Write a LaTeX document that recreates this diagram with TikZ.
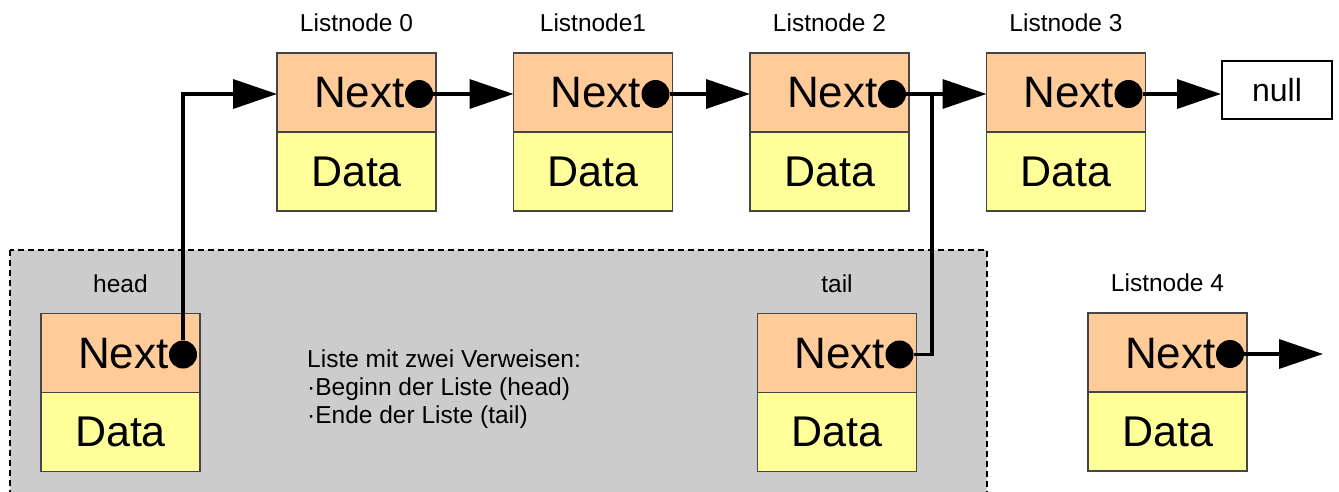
\documentclass[tikz,border=0pt]{standalone}
\usepackage{fontspec}
\setmainfont{Liberation Sans}
\usetikzlibrary{arrows.meta}
\definecolor{nextfill}{HTML}{FFCC99}
\definecolor{datafill}{HTML}{FFFF99}
\definecolor{grayfill}{HTML}{CCCCCC}
\definecolor{cellborder}{HTML}{454545}
\tikzset{
  cell/.style={draw=cellborder, line width=1.5pt, minimum width=159pt, minimum height=79pt, inner sep=0pt, outer sep=0pt},
  nextcell/.style={cell, fill=nextfill},
  datacell/.style={cell, fill=datafill, font=\fontsize{43}{43}\selectfont},
  nexttext/.style={anchor=base east, inner sep=0pt, font=\fontsize{44}{44}\selectfont},
  ptr/.style={circle, fill=black, minimum size=28pt, inner sep=0pt},
  lbl/.style={anchor=base, inner sep=0pt, font=\fontsize{24.5}{28}\selectfont},
  desc/.style={anchor=base west, inner sep=0pt, font=\fontsize{24.5}{28}\selectfont},
  arr/.style={line width=3.5pt, line join=miter, -{Triangle[length=44pt,width=29pt]}},
  conn/.style={line width=3.5pt, line join=miter},
  area/.style={draw=black, dash pattern=on 6pt off 4pt, line width=2pt, fill=grayfill},
  nullbox/.style={draw=black, line width=2pt, fill=white, minimum width=110pt, minimum height=58pt, inner sep=0pt, font=\fontsize{32}{32}\selectfont},
}
\newcommand\mklistnode[3]{%
  \node[nextcell] (n#1) at #2 {};
  \node[datacell, anchor=north] (d#1) at (n#1.south) {Data};
  \node[ptr] (p#1) at ([xshift=-17pt,yshift=-1.5pt]n#1.east) {};
  \node[nexttext] (t#1) at ([yshift=-14pt]p#1.west) {Next};
  \node[lbl] (l#1) at ([yshift=21.5pt]n#1.north) {#3};
}
\begin{document}
\begin{tikzpicture}[x=1pt,y=-1pt]
\useasboundingbox (0,0) rectangle (1339,492);
\fill[white] (0,0) rectangle (1339,492);
% grey area
\draw[area] (10,250) rectangle (987,520);
% list nodes
\mklistnode{0}{(356.5,92.5)}{Listnode 0}
\mklistnode{1}{(593,92.5)}{Listnode1}
\mklistnode{2}{(829.5,92.5)}{Listnode 2}
\mklistnode{3}{(1066,92.5)}{Listnode 3}
\mklistnode{h}{(120.5,353)}{head}
\mklistnode{t}{(837,353)}{tail}
\mklistnode{4}{(1167.5,352.5)}{Listnode 4}
\node[nullbox] (null) at (1277,90) {null};
% description
\node[desc] (desc1) at (307,367) {Liste mit zwei Verweisen:};
\node[desc] (desc2) at (307,395) {·Beginn der Liste (head)};
\node[desc] (desc3) at (307,423) {·Ende der Liste (tail)};
% connectors
\coordinate (j) at (932,94);
\coordinate (end4) at (1323,354);
\draw[arr] (p0) -- (p0 -| n1.west);
\draw[arr] (p1) -- (p1 -| n2.west);
\draw[arr] (p2) -- (p2 -| n3.west);
\draw[arr] (p3) -- (p3 -| null.west);
\draw[arr] (p4) -- (end4);
\draw[arr] (ph) |- (n0.west |- p0);
\draw[conn] (pt) -| (j);
\end{tikzpicture}
\end{document}
